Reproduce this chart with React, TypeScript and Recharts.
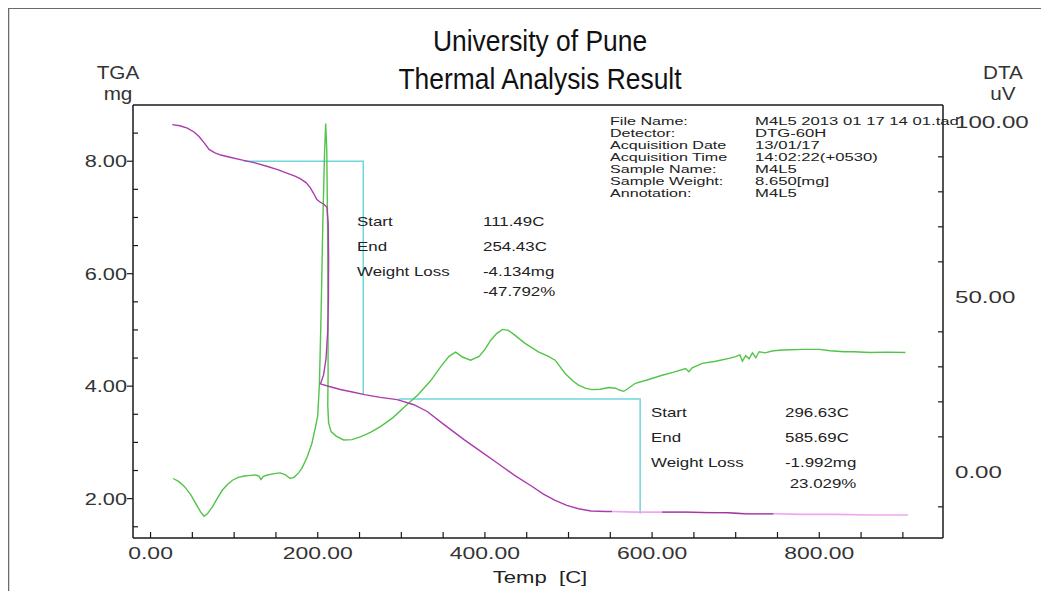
import React from 'react';
import { ComposedChart, Line, XAxis, YAxis, ReferenceLine } from 'recharts';

// ---------- data ----------
// TGA (mg) main section, temperature in C
const tgaMainT = [26, 35, 44, 52, 58, 64, 70, 77, 84, 95, 110, 125, 139, 152, 163, 172, 179, 186, 191, 195, 199, 203, 207, 211, 212.5, 213, 212.8, 212, 210, 207, 204, 203, 215, 227, 240, 256, 275, 295, 315, 331, 350, 375, 395, 416, 436, 456, 470, 484, 498, 512, 527, 545, 552];
const tgaMainV = [8.65, 8.63, 8.59, 8.52, 8.44, 8.33, 8.21, 8.15, 8.11, 8.07, 8.02, 7.97, 7.91, 7.85, 7.79, 7.74, 7.69, 7.62, 7.53, 7.43, 7.32, 7.27, 7.24, 7.18, 6.9, 6.3, 5.6, 5.0, 4.5, 4.2, 4.07, 4.04, 3.99, 3.94, 3.9, 3.85, 3.8, 3.76, 3.67, 3.55, 3.33, 3.05, 2.84, 2.62, 2.41, 2.22, 2.08, 1.97, 1.88, 1.82, 1.78, 1.77, 1.77];
// TGA tail (lighter trace)
const tgaTailT = [552, 580, 610, 640, 680, 720, 745, 780, 820, 860, 906];
const tgaTailV = [1.77, 1.76, 1.76, 1.76, 1.75, 1.73, 1.73, 1.72, 1.72, 1.71, 1.71];
// darker pieces on the tail
const tgaDarkT = [612, 640, 665, 690, 700, 712, 720, 745];
const tgaDarkV = [1.76, 1.76, 1.75, 1.75, 1.74, 1.73, 1.73, 1.73];

// DTA (uV)
const dtaT = [27, 34, 41, 48, 54, 60, 64, 68, 74, 80, 86, 92, 98, 105, 112, 120, 126, 130, 132, 135, 140, 148, 155, 161, 167, 172, 177, 181, 187, 193, 197, 200, 202, 204, 206, 208, 209.5, 210.8, 211.8, 212.3, 212.4, 212, 213, 216, 222, 231, 241, 251, 263, 275, 290, 305, 320, 335, 347, 357, 365, 373, 383, 393, 400, 407, 414, 421, 428, 435, 448, 464, 476, 484, 496, 505, 512, 520, 528, 538, 548, 556, 562, 566, 570, 580, 595, 612, 625, 640, 644, 648, 660, 676, 692, 700, 705, 708, 712, 716, 720, 724, 728, 735, 745, 757, 781, 800, 813, 830, 841, 861, 880, 903];
const dtaV = [-1.9, -2.8, -4.3, -6.5, -9.0, -11.5, -12.7, -12.0, -10.0, -7.5, -5.2, -3.6, -2.4, -1.6, -1.2, -1.0, -0.9, -1.3, -2.2, -1.3, -0.9, -0.5, -0.3, -0.8, -1.9, -1.5, -0.3, 1.0, 4.0, 8.1, 12.5, 16.0, 25, 45, 70, 90, 99.5, 92, 70, 45, 28, 19, 14, 11.5, 10.2, 9.1, 9.2, 10.0, 11.3, 12.9, 15.5, 18.8, 22.0, 26.0, 30.0, 33.0, 34.2, 32.8, 31.9, 33.0, 35.0, 37.6, 39.5, 40.7, 40.4, 39.2, 36.7, 34.3, 33.0, 31.9, 28.1, 26.0, 24.8, 23.9, 23.5, 23.6, 24.1, 23.9, 23.3, 23.0, 23.6, 25.3, 26.3, 27.6, 28.4, 29.5, 28.6, 29.7, 31.0, 31.6, 32.4, 32.9, 33.4, 31.6, 33.2, 32.3, 34.0, 32.6, 34.3, 34.0, 34.6, 34.8, 35.0, 35.0, 34.6, 34.3, 34.3, 34.1, 34.2, 34.1];

// weight-loss step construction lines
const step1T = [111.49, 254.43, 254.43];
const step1V = [8.0, 8.0, 3.85];
const step2T = [296.63, 585.69, 585.69];
const step2V = [3.77, 3.77, 1.73];

// axes
const X_DOMAIN: [number, number] = [-21, 948];
const TGA_DOMAIN: [number, number] = [1.3, 9.0];
const DTA_DOMAIN: [number, number] = [-18.9, 104.8];
const xTicks = [0, 50, 100, 150, 200, 250, 300, 350, 400, 450, 500, 550, 600, 650, 700, 750, 800, 850, 900];
const xLabelTicks = [0, 200, 400, 600, 800];
const tgaTicks = [1.5, 2, 2.5, 3, 3.5, 4, 4.5, 5, 5.5, 6, 6.5, 7, 7.5, 8, 8.5];
const tgaLabelTicks = [2, 4, 6, 8];
const dtaTicks = [-10, 0, 10, 20, 30, 40, 50, 60, 70, 80, 90, 100];
const dtaLabelTicks = [0, 50, 100];

// text
const titleLines = ['University of Pune', 'Thermal Analysis Result'];
const infoLabels = ['File Name:', 'Detector:', 'Acquisition Date', 'Acquisition Time', 'Sample Name:', 'Sample Weight:', 'Annotation:'];
const infoValues = ['M4L5 2013 01 17 14 01.tad', 'DTG-60H', '13/01/17', '14:02:22(+0530)', 'M4L5', '8.650[mg]', 'M4L5'];
const step1Labels = ['Start', 'End', 'Weight Loss'];
const step1Values = ['111.49C', '254.43C', '-4.134mg', '-47.792%'];
const step2Labels = ['Start', 'End', 'Weight Loss'];
const step2Values = ['296.63C', '585.69C', '-1.992mg', ' 23.029%'];

const pts = (t: number[], v: number[]) => t.map((tt, i) => ({ t: tt, v: v[i] }));

const FONT = "'Liberation Sans', Arial, Helvetica, sans-serif";
const AXIS = '#1a1a1a';

const Txt = ({ x, y, size, anchor = 'start', sx = 1.15, fill = '#222', children }: any) => (
  <text
    transform={`translate(${x},${y}) scale(${sx},1)`}
    fontSize={size}
    textAnchor={anchor}
    fontFamily={FONT}
    fill={fill}
    style={{ whiteSpace: 'pre' }}
  >
    {children}
  </text>
);

const XTick = (props: any) => {
  const { x, y, payload } = props;
  const v = payload.value;
  return (
    <g>
      <line x1={x} x2={x} y1={y} y2={y - 6} stroke={AXIS} strokeWidth={1.2} />
      {xLabelTicks.includes(v) && (
        <Txt x={x} y={y + 21} size={17} anchor="middle" sx={1.35} fill="#333">
          {v.toFixed(2)}
        </Txt>
      )}
    </g>
  );
};

const LeftTick = (props: any) => {
  const { x, y, payload } = props;
  const v = payload.value;
  const major = tgaLabelTicks.includes(v);
  return (
    <g>
      {major ? (
        <line x1={x - 6} x2={x} y1={y} y2={y} stroke={AXIS} strokeWidth={1.2} />
      ) : (
        <line x1={x} x2={x + 5} y1={y} y2={y} stroke={AXIS} strokeWidth={1.2} />
      )}
      {major && (
        <Txt x={x - 6} y={y + 6} size={17} anchor="end" sx={1.28} fill="#333">
          {v.toFixed(2)}
        </Txt>
      )}
    </g>
  );
};

const RightTick = (props: any) => {
  const { x, y, payload } = props;
  const v = payload.value;
  const major = dtaLabelTicks.includes(v);
  return (
    <g>
      {!major && <line x1={x - 5} x2={x} y1={y} y2={y} stroke={AXIS} strokeWidth={1.2} />}
      {major && (
        <Txt x={x + 12} y={y + 6} size={17} anchor="start" sx={1.42} fill="#333">
          {v.toFixed(2)}
        </Txt>
      )}
    </g>
  );
};

export default function App() {
  return (
    <div style={{ position: 'relative', width: 1033, height: 583 }}>
      <ComposedChart width={1033} height={583} margin={{ top: 97, right: 0, bottom: 0, left: 0 }}>
        <XAxis
          xAxisId="x"
          dataKey="t"
          type="number"
          domain={X_DOMAIN}
          allowDataOverflow
          ticks={xTicks}
          interval={0}
          tickSize={0}
          tickMargin={0}
          tickLine={false}
          tick={(p: any) => <XTick {...p} />}
          axisLine={{ stroke: AXIS, strokeWidth: 1.5 }}
          height={53}
        />
        <YAxis
          yAxisId="tga"
          orientation="left"
          type="number"
          domain={TGA_DOMAIN}
          allowDataOverflow
          ticks={tgaTicks}
          interval={0}
          tickSize={0}
          tickMargin={0}
          tickLine={false}
          tick={(p: any) => <LeftTick {...p} />}
          axisLine={{ stroke: AXIS, strokeWidth: 1.5 }}
          width={125}
        />
        <YAxis
          yAxisId="dta"
          orientation="right"
          type="number"
          domain={DTA_DOMAIN}
          allowDataOverflow
          ticks={dtaTicks}
          interval={0}
          tickSize={0}
          tickMargin={0}
          tickLine={false}
          tick={(p: any) => <RightTick {...p} />}
          axisLine={{ stroke: AXIS, strokeWidth: 1.5 }}
          width={98}
        />
        <ReferenceLine xAxisId="x" yAxisId="tga" y={TGA_DOMAIN[1]} stroke={AXIS} strokeWidth={1.5} />

        <Line xAxisId="x" yAxisId="tga" data={pts(step1T, step1V)} dataKey="v" stroke="#6fd6da" strokeWidth={1.5} dot={false} isAnimationActive={false} />
        <Line xAxisId="x" yAxisId="tga" data={pts(step2T, step2V)} dataKey="v" stroke="#6fd6da" strokeWidth={1.5} dot={false} isAnimationActive={false} />
        <Line xAxisId="x" yAxisId="dta" data={pts(dtaT, dtaV)} dataKey="v" stroke="#52c44a" strokeWidth={1.4} dot={false} isAnimationActive={false} />
        <Line xAxisId="x" yAxisId="tga" data={pts(tgaTailT, tgaTailV)} dataKey="v" stroke="#efa6ef" strokeWidth={1.6} dot={false} isAnimationActive={false} />
        <Line xAxisId="x" yAxisId="tga" data={pts(tgaDarkT, tgaDarkV)} dataKey="v" stroke="#9a3a9a" strokeWidth={1.3} dot={false} isAnimationActive={false} />
        <Line xAxisId="x" yAxisId="tga" data={pts(tgaMainT, tgaMainV)} dataKey="v" stroke="#ab3cae" strokeWidth={1.4} dot={false} isAnimationActive={false} />
      </ComposedChart>

      <svg
        width={1049}
        height={599}
        style={{ position: 'absolute', left: -8, top: -8, pointerEvents: 'none' }}
      >
        {/* outer page frame */}
        <line x1={6} y1={8} x2={1049} y2={8} stroke="#6a6a6a" strokeWidth={2} />
        <line x1={8} y1={7} x2={8} y2={599} stroke="#6a6a6a" strokeWidth={2.5} />

        {/* titles */}
        <Txt x={540} y={51} size={30} anchor="middle" sx={0.88} fill="#111">{titleLines[0]}</Txt>
        <Txt x={540} y={89} size={30} anchor="middle" sx={0.88} fill="#111">{titleLines[1]}</Txt>

        {/* axis unit labels */}
        <Txt x={118} y={79} size={18} anchor="middle" fill="#333">TGA</Txt>
        <Txt x={118} y={100} size={18} anchor="middle" fill="#333">mg</Txt>
        <Txt x={1003} y={79} size={18} anchor="middle" fill="#333">DTA</Txt>
        <Txt x={1003} y={100} size={18} anchor="middle" fill="#333">uV</Txt>
        <Txt x={540} y={583} size={17} anchor="middle" sx={1.3} fill="#222">Temp  [C]</Txt>

        {/* info block */}
        {infoLabels.map((s, i) => (
          <Txt key={'il' + i} x={610} y={125 + i * 12} size={11.5} sx={1.4} fill="#222">{s}</Txt>
        ))}
        {infoValues.map((s, i) => (
          <Txt key={'iv' + i} x={755} y={125 + i * 12} size={11.5} sx={1.45} fill="#222">{s}</Txt>
        ))}

        {/* step 1 annotation */}
        {step1Labels.map((s, i) => (
          <Txt key={'s1l' + i} x={357} y={226 + i * 25} size={13} sx={1.3} fill="#222">{s}</Txt>
        ))}
        {step1Values.map((s, i) => (
          <Txt key={'s1v' + i} x={483} y={i < 3 ? 226 + i * 25 : 296} size={13} sx={1.3} fill="#222">{s}</Txt>
        ))}

        {/* step 2 annotation */}
        {step2Labels.map((s, i) => (
          <Txt key={'s2l' + i} x={651} y={417 + i * 25} size={13} sx={1.3} fill="#222">{s}</Txt>
        ))}
        {step2Values.map((s, i) => (
          <Txt key={'s2v' + i} x={785} y={i < 3 ? 417 + i * 25 : 488} size={13} sx={1.3} fill="#222">{s}</Txt>
        ))}
      </svg>
    </div>
  );
}
